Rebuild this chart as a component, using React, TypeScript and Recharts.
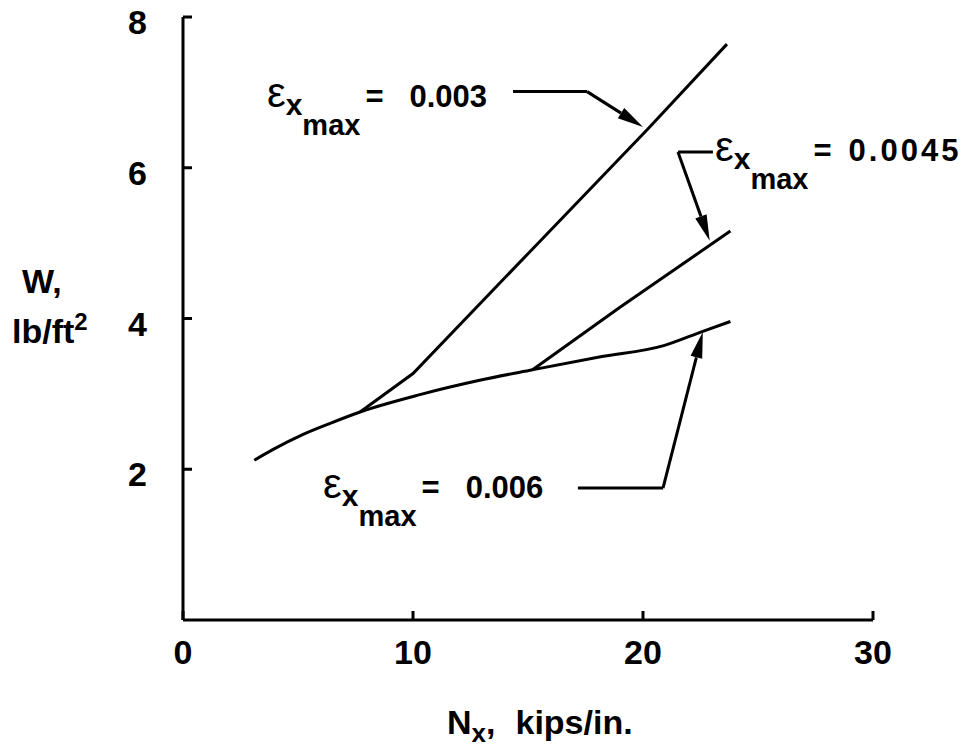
import React from "react";
import { LineChart, Line, XAxis, YAxis, ReferenceLine, ReferenceDot } from "recharts";

const FONT = "'Liberation Sans', Arial, Helvetica, sans-serif";

// N_x (kips/in.) vs W (lb/ft^2)
const nx003 = [7.7, 10.0, 15.0, 20.2, 23.65];
const w003 = [2.76, 3.27, 4.86, 6.51, 7.64];

const nx0045 = [15.2, 19.0, 23.8];
const w0045 = [3.32, 4.15, 5.16];

const nx006 = [3.1, 3.9, 5.2, 6.4, 7.7, 10.3, 12.9, 15.2, 18.1, 20.9, 22.6, 23.8];
const w006 = [2.12, 2.26, 2.46, 2.61, 2.76, 2.99, 3.18, 3.32, 3.49, 3.64, 3.83, 3.96];

const xTicks = [0, 10, 20, 30];
const yTicks = [2, 4, 6, 8];

const strainValues = ["0.003", "0.0045", "0.006"];

const zip = (xs: number[], ys: number[]) => xs.map((x, i) => ({ x, y: ys[i] }));

const series = [
  { key: "e003", data: zip(nx003, w003), type: "linear" as const },
  { key: "e0045", data: zip(nx0045, w0045), type: "linear" as const },
  { key: "e006", data: zip(nx006, w006), type: "monotone" as const },
];

// callout label anchors and leader polylines, in data units
const callouts = [
  {
    label: { x: 3.65, y: 6.8 },
    spacing: 0,
    leader: [
      { x: 14.35, y: 7.01 },
      { x: 17.57, y: 7.01 },
      { x: 20.0, y: 6.54 },
    ],
  },
  {
    label: { x: 23.13, y: 6.09 },
    spacing: 3,
    leader: [
      { x: 23.04, y: 6.21 },
      { x: 21.52, y: 6.21 },
      { x: 22.9, y: 5.03 },
    ],
  },
  {
    label: { x: 6.09, y: 1.62 },
    spacing: 0,
    leader: [
      { x: 17.17, y: 1.75 },
      { x: 20.87, y: 1.75 },
      { x: 22.6, y: 3.82 },
    ],
  },
];

function XTick({ x, y, payload }: any) {
  return (
    <g>
      <line x1={x} y1={y} x2={x} y2={y - 9} stroke="#000" strokeWidth={3} />
      <text x={x} y={y + 44} textAnchor="middle" fontFamily={FONT} fontWeight="bold" fontSize={34} fill="#000">
        {payload.value}
      </text>
    </g>
  );
}

function YTick({ x, y, payload }: any) {
  return (
    <g>
      <line x1={x} y1={y} x2={x + 9} y2={y} stroke="#000" strokeWidth={3} />
      <text x={x - 36} y={y + 17} textAnchor="end" fontFamily={FONT} fontWeight="bold" fontSize={34} fill="#000">
        {payload.value}
      </text>
    </g>
  );
}

function PlainSeg(p: any) {
  return <line x1={p.x1} y1={p.y1} x2={p.x2} y2={p.y2} stroke="#000" strokeWidth={3} />;
}

function ArrowSeg(p: any) {
  const dx = p.x2 - p.x1;
  const dy = p.y2 - p.y1;
  const len = Math.sqrt(dx * dx + dy * dy) || 1;
  const ux = dx / len;
  const uy = dy / len;
  const bx = p.x2 - ux * 26;
  const by = p.y2 - uy * 26;
  const nx = -uy * 6;
  const ny = ux * 6;
  return (
    <g>
      <line x1={p.x1} y1={p.y1} x2={bx} y2={by} stroke="#000" strokeWidth={3} />
      <polygon points={`${p.x2},${p.y2} ${bx + nx},${by + ny} ${bx - nx},${by - ny}`} fill="#000" />
    </g>
  );
}

function StrainLabel({ cx, cy, value, spacing }: any) {
  return (
    <text x={cx} y={cy} fontFamily={FONT} fill="#000">
      <tspan fontSize={42}>ε</tspan>
      <tspan fontSize={30} fontWeight="bold" dy={8}>x</tspan>
      <tspan fontSize={29} fontWeight="bold" dy={20}>max</tspan>
      <tspan fontSize={31} fontWeight="bold" dy={-28} dx={5}>=</tspan>
      <tspan fontSize={31} fontWeight="bold" dx={26 - spacing * 3} letterSpacing={spacing}>
        {value}
      </tspan>
    </text>
  );
}

function YTitle() {
  return (
    <text fontFamily={FONT} fontWeight="bold" fontSize={34} fill="#000">
      <tspan x={22} y={293}>W,</tspan>
      <tspan x={12} y={343}>lb/ft</tspan>
      <tspan fontSize={24} dy={-13}>2</tspan>
    </text>
  );
}

function XTitle() {
  return (
    <text x={447} y={734} fontFamily={FONT} fontWeight="bold" fontSize={34} fill="#000">
      N
      <tspan fontSize={26} dy={8}>x</tspan>
      <tspan dy={-8}>,</tspan>
      <tspan dx={20}>kips/in.</tspan>
    </text>
  );
}

export default function App() {
  return (
    <div style={{ width: 971, height: 752, margin: -8 }}>
      <LineChart width={971} height={752} margin={{ top: 17, right: 98, bottom: 72, left: 123 }}>
        <XAxis
          type="number"
          dataKey="x"
          domain={[0, 30]}
          ticks={xTicks}
          height={60}
          tickSize={0}
          tickMargin={0}
          tickLine={false}
          tick={<XTick />}
          axisLine={{ stroke: "#000", strokeWidth: 3 }}
          label={{ content: () => <XTitle /> }}
        />
        <YAxis
          type="number"
          domain={[0, 8]}
          ticks={yTicks}
          width={60}
          tickSize={0}
          tickMargin={0}
          tickLine={false}
          tick={<YTick />}
          axisLine={{ stroke: "#000", strokeWidth: 3 }}
          label={{ content: () => <YTitle /> }}
        />
        {series.map((s) => (
          <Line
            key={s.key}
            data={s.data}
            dataKey="y"
            type={s.type}
            stroke="#000"
            strokeWidth={3}
            dot={false}
            activeDot={false}
            isAnimationActive={false}
          />
        ))}
        {callouts.map((c, i) => (
          <ReferenceLine
            key={`a${i}`}
            segment={[c.leader[0], c.leader[1]]}
            shape={(p: any) => <PlainSeg {...p} />}
          />
        ))}
        {callouts.map((c, i) => (
          <ReferenceLine
            key={`b${i}`}
            segment={[c.leader[1], c.leader[2]]}
            shape={(p: any) => <ArrowSeg {...p} />}
          />
        ))}
        {callouts.map((c, i) => (
          <ReferenceDot
            key={`l${i}`}
            x={c.label.x}
            y={c.label.y}
            r={0}
            shape={(p: any) => (
              <StrainLabel cx={p.cx} cy={p.cy} value={strainValues[i]} spacing={c.spacing} />
            )}
          />
        ))}
      </LineChart>
    </div>
  );
}
